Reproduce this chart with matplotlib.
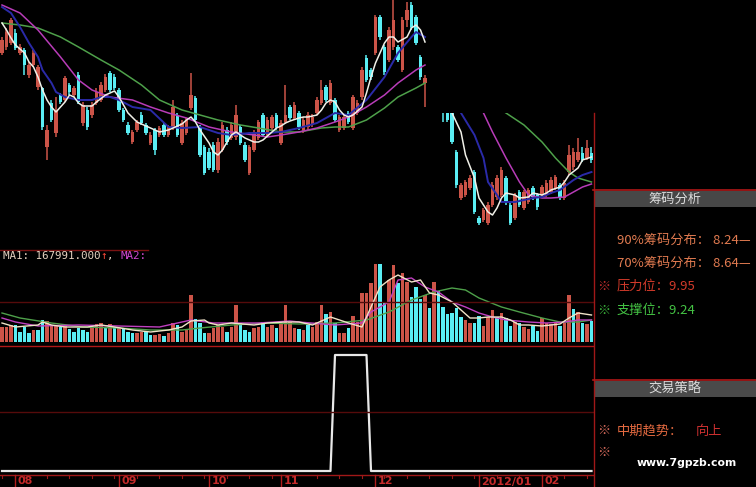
import numpy as np
import matplotlib
matplotlib.use('Agg')
import matplotlib.pyplot as plt
from matplotlib.patches import Rectangle
from matplotlib.transforms import blended_transform_factory

W, H = 756, 487
CJK = ['Noto Sans CJK SC', 'DejaVu Sans']
nan = float('nan')

# daily candles (price); three bars in the gap lie outside the drawn range
opens = [24.7, 25.3, 25.7, 26.7, 24.7, 25.0, 22.5, 23.5, 21.3, 21.2, 15.3, 19.7, 16.7, 20.5, 20.0, 21.5,
         20.5, 22.5, 17.7, 19.0, 18.5, 19.7, 20.0, 21.0, 22.7, 22.3, 21.0, 19.0, 17.5, 15.8, 17.0, 18.5,
         17.5, 15.7, 17.0, 16.5, 17.5, 16.5, 17.3, 18.5, 15.7, 16.7, 19.2, 20.2, 17.3, 15.3, 14.8, 15.5,
         13.0, 15.0, 17.0, 16.2, 16.3, 17.3, 15.5, 12.7, 15.0, 16.2, 18.5, 16.5, 17.2, 18.5, 15.7, 17.8,
         19.3, 18.2, 18.7, 17.0, 17.3, 17.5, 18.7, 19.7, 21.3, 19.7, 20.0, 17.0, 17.2, 18.7, 17.2, 18.7,
         20.3, 24.2, 23.0, 24.7, 28.3, 25.3, 24.0, 25.3, 25.3, 23.0, 28.0, 29.5, 28.3, 24.3, 21.7,
         nan, nan, nan,
         20.0, 19.5, 19.0, 14.8, 10.2, 10.5, 11.2, 12.8, 8.2, 8.0, 7.7, 9.5, 10.3, 10.5, 12.2, 9.5,
         8.2, 10.8, 9.2, 9.8, 11.2, 10.5, 10.5, 10.5, 10.8, 11.2, 11.5, 10.2, 12.8, 13.3, 14.0, 14.7,
         14.2, 14.7]
highs = [26.3, 27.2, 28.2, 27.1, 25.6, 25.2, 23.8, 25.0, 23.5, 21.3, 17.5, 20.0, 20.3, 20.7, 22.4, 21.7,
         21.4, 22.8, 19.8, 19.3, 19.8, 21.2, 21.8, 22.6, 22.9, 22.6, 21.2, 19.2, 17.8, 17.0, 18.0, 18.8,
         17.7, 16.8, 17.2, 17.4, 17.7, 17.5, 20.0, 18.7, 18.0, 18.2, 22.7, 20.4, 17.5, 15.5, 15.2, 15.8,
         16.2, 17.8, 17.3, 17.8, 19.5, 17.5, 15.8, 15.5, 17.0, 18.0, 18.7, 18.3, 18.5, 18.7, 18.0, 21.5,
         19.5, 19.8, 18.9, 18.3, 18.8, 18.6, 20.3, 22.0, 21.5, 22.0, 20.2, 18.5, 18.5, 18.9, 20.5, 20.0,
         23.3, 24.5, 23.2, 28.5, 28.5, 25.5, 27.3, 30.0, 25.5, 28.3, 29.8, 29.8, 28.5, 24.5, 22.5,
         nan, nan, nan,
         20.2, 19.8, 19.2, 15.0, 11.7, 12.0, 12.5, 13.0, 8.4, 9.2, 9.8, 11.8, 12.5, 13.3, 12.4, 9.7,
         10.7, 11.0, 11.0, 11.2, 11.4, 10.7, 11.5, 12.0, 12.3, 12.5, 11.7, 12.0, 15.5, 15.2, 16.2, 15.3,
         16.0, 15.3]
lows = [24.5, 25.0, 25.5, 25.0, 24.5, 22.5, 22.2, 23.3, 21.0, 17.0, 14.0, 17.8, 16.3, 19.6, 19.8, 20.5,
        20.3, 19.6, 17.4, 17.0, 18.2, 19.5, 19.8, 20.8, 20.8, 21.0, 18.8, 17.8, 16.5, 15.6, 16.8, 17.5,
        16.5, 15.5, 14.5, 16.3, 16.3, 16.3, 17.0, 16.3, 15.5, 16.5, 19.0, 17.8, 14.3, 12.5, 13.0, 12.8,
        12.7, 14.8, 15.5, 16.0, 16.0, 15.5, 13.8, 12.5, 14.8, 16.0, 16.3, 16.3, 17.0, 17.0, 15.5, 17.6,
        18.0, 18.0, 17.0, 16.7, 17.0, 17.3, 18.5, 19.5, 19.8, 19.5, 17.8, 16.8, 17.0, 17.6, 17.0, 18.5,
        20.0, 21.8, 22.0, 24.5, 26.0, 22.5, 23.8, 25.0, 23.8, 22.8, 27.3, 27.0, 25.5, 22.0, 19.3,
        nan, nan, nan,
        17.8, 17.8, 15.6, 11.2, 10.0, 10.3, 11.0, 8.6, 7.5, 7.8, 7.5, 9.3, 10.0, 10.3, 9.5, 7.5,
        8.0, 9.3, 9.0, 9.6, 10.0, 9.0, 10.3, 10.3, 10.6, 11.0, 10.0, 10.0, 12.5, 13.0, 13.8, 13.8,
        14.0, 13.7]
closes = [26.0, 26.8, 28.0, 25.2, 25.3, 23.5, 23.5, 24.7, 23.3, 17.3, 17.0, 18.0, 19.0, 19.8, 22.2, 20.8,
          21.2, 19.8, 19.5, 17.3, 19.5, 20.8, 21.5, 22.3, 21.0, 21.2, 19.0, 18.0, 16.7, 16.8, 17.8, 17.7,
          16.7, 16.5, 15.0, 17.2, 16.5, 17.3, 19.3, 16.5, 17.7, 18.0, 20.5, 18.0, 14.5, 12.7, 13.2, 13.0,
          15.8, 17.5, 15.8, 17.5, 18.5, 15.7, 14.0, 15.3, 16.8, 17.8, 16.5, 18.0, 18.3, 17.3, 17.7, 18.5,
          18.2, 19.5, 17.3, 18.0, 18.5, 18.3, 20.0, 21.0, 20.0, 21.7, 18.0, 18.3, 18.3, 17.8, 20.3, 19.7,
          23.0, 22.0, 22.3, 28.3, 26.3, 22.8, 27.0, 28.0, 24.0, 28.0, 29.0, 27.3, 25.7, 22.3, 22.2,
          nan, nan, nan,
          19.0, 18.0, 15.8, 11.5, 11.5, 11.8, 12.2, 8.8, 7.7, 9.0, 9.5, 11.5, 12.2, 13.0, 9.8, 7.7,
          10.5, 9.5, 10.8, 11.0, 10.3, 9.3, 11.3, 11.7, 12.0, 12.3, 10.2, 11.7, 14.5, 14.8, 14.8, 14.0,
          15.2, 14.0]

# price moving averages (bar index, value)
ma5_l_i = [0, 1, 2, 3, 5, 6, 7, 8, 9, 10, 11, 12, 14, 15, 16, 17, 18, 20, 21, 23, 24, 25, 26, 27, 28, 30,
           31, 32, 33, 35, 37, 40, 41, 42, 43, 44, 46, 47, 48, 49, 50, 51, 52, 53, 54, 56, 57, 58, 59, 60,
           61, 62, 63, 64, 66, 67, 68, 70, 71, 72, 73, 74, 75, 76, 77, 78, 80, 81, 82, 83, 84, 85, 86, 87,
           88, 90, 91, 92, 93, 94]
ma5_l_v = [27.7, 27.0, 26.2, 25.5, 24.7, 23.8, 23.3, 22.3, 21.0, 20.0, 19.3, 18.8, 19.8, 20.5, 20.3, 19.7,
           19.4, 19.4, 19.8, 20.5, 20.7, 20.9, 20.3, 19.5, 18.7, 17.8, 17.6, 17.4, 17.2, 16.8, 17.0, 17.6,
           18.0, 18.3, 17.8, 17.0, 15.7, 14.8, 14.5, 15.0, 15.8, 16.5, 16.8, 16.5, 16.2, 15.8, 15.8, 16.0,
           16.4, 16.8, 17.2, 17.4, 17.7, 17.9, 18.2, 18.3, 18.3, 18.5, 19.0, 19.7, 20.0, 19.8, 19.0, 18.5,
           18.3, 18.5, 19.3, 20.7, 22.3, 23.7, 24.7, 25.7, 26.3, 26.3, 25.8, 26.3, 27.2, 27.5, 27.0, 25.8]
ma10_l_i = [0, 2, 4, 6, 8, 9, 11, 12, 14, 15, 17, 20, 22, 24, 26, 29, 33, 37, 40, 44, 48, 51, 55, 59, 62,
            66, 70, 74, 77, 81, 85, 88, 91, 92, 94]
ma10_l_v = [29.3, 28.7, 27.3, 25.7, 24.3, 23.0, 21.7, 20.8, 20.3, 20.2, 20.0, 20.0, 20.3, 20.3, 20.0, 19.3,
            19.0, 17.3, 17.2, 17.3, 16.7, 16.5, 16.7, 16.7, 16.8, 17.2, 17.7, 18.7, 18.5, 20.0, 22.3, 24.7,
            26.3, 26.8, 26.3]
ma20_l_i = [0, 4, 8, 13, 17, 20, 24, 29, 33, 37, 41, 46, 51, 56, 59, 62, 66, 70, 74, 77, 81, 85, 88, 92, 94]
ma20_l_v = [29.5, 28.7, 27.0, 24.3, 22.0, 21.0, 20.3, 20.0, 19.3, 18.7, 18.2, 17.3, 16.8, 16.5, 16.3, 16.5,
            16.8, 17.2, 17.8, 18.3, 19.3, 20.5, 21.7, 23.0, 23.5]
ma60_l_i = [0, 4, 8, 13, 17, 22, 26, 31, 35, 40, 44, 48, 53, 57, 62, 66, 71, 74, 77, 81, 85, 88, 92, 94]
ma60_l_v = [27.7, 27.5, 27.2, 26.3, 25.3, 24.0, 23.0, 21.5, 20.0, 19.0, 18.5, 18.0, 17.5, 17.2, 16.8, 16.8,
            17.2, 17.3, 17.3, 18.0, 19.2, 20.3, 21.2, 21.7]

ma5_r_i = [98, 100, 102, 103, 105, 106, 108, 109, 110, 111, 112, 114, 115, 117, 118, 120, 121, 122, 124,
           125, 126, 128, 129, 131]
ma5_r_v = [21.5, 18.7, 16.8, 14.5, 12.2, 10.2, 8.8, 8.5, 9.2, 10.2, 10.7, 10.5, 10.2, 10.3, 10.7, 10.5,
           10.7, 11.0, 11.3, 11.8, 12.5, 13.2, 14.0, 14.3]
ma10_r_i = [98, 102, 105, 107, 108, 110, 111, 114, 116, 118, 120, 122, 124, 127, 129, 131]
ma10_r_v = [21.6, 18.7, 16.5, 14.2, 11.8, 10.5, 9.8, 9.8, 10.0, 10.2, 10.3, 10.7, 11.0, 12.0, 12.5, 12.8]
ma20_r_i = [98, 107, 109, 112, 115, 117, 120, 122, 125, 127, 129, 131]
ma20_r_v = [27.0, 18.7, 16.8, 14.2, 11.8, 10.5, 10.2, 10.2, 10.3, 10.8, 11.3, 11.6]
ma60_r_i = [98, 112, 116, 120, 123, 126, 128, 131]
ma60_r_v = [23.0, 18.7, 17.5, 15.8, 14.2, 12.8, 12.2, 11.8]

# volume (arbitrary units) and its colour flag (1 = red, 0 = cyan)
volume = [15, 15, 17, 17, 10, 15, 9, 12, 12, 22, 21, 17, 17, 15, 17, 13, 10, 14, 12, 10,
          14, 18, 19, 14, 18, 15, 15, 14, 10, 9, 9, 10, 10, 7, 7, 8, 6, 9, 19, 17,
          10, 12, 47, 23, 19, 9, 9, 14, 17, 15, 10, 15, 37, 19, 12, 10, 14, 15, 20, 15,
          17, 14, 19, 37, 20, 14,
          13, 12, 17, 15, 20, 37, 28, 30, 19, 9, 9, 14, 26, 20, 49, 49, 59, 78, 78, 40,
          62, 77, 59, 69, 60, 45, 55, 43, 47, 34, 60, 51, 35, 28, 29, 34, 25, 22, 19, 19,
          26, 16, 25, 32, 25, 29, 24, 16, 20, 19, 15, 13, 16, 11, 24, 19, 18, 19, 16, 19,
          47, 33, 30, 19, 18, 21]
vol_up = [1, 1, 1, 0, 0, 0, 0, 1, 0, 0, 1, 1, 1, 0, 1, 0, 0, 0, 0, 0,
          1, 1, 1, 0, 1, 0, 1, 0, 0, 0, 1, 1, 0, 0, 1, 1, 0, 1, 1, 0,
          1, 1, 1, 0, 0, 0, 1, 1, 1, 1, 0, 1, 1, 0, 0, 0, 1, 1, 0, 1,
          1, 0, 1, 1, 1, 1,
          0, 1, 0, 1, 1, 1, 0, 1, 0, 1, 1, 0, 1, 1, 1, 1, 1, 1, 0, 0,
          1, 1, 0, 1, 1, 0, 0, 0, 1, 0, 1, 0, 0, 0, 0, 0, 0, 1, 1, 0,
          0, 1, 1, 1, 0, 1, 0, 0, 1, 0, 1, 1, 0, 0, 1, 1, 1, 1, 0, 1,
          1, 0, 1, 0, 1, 0]

vma5_i = [0, 3, 8, 9, 11, 14, 19, 22, 25, 29, 33, 37, 40, 42, 45, 46, 48, 51, 56, 59, 63, 66, 69, 73,
          75, 77, 80, 82, 84, 86, 88, 91, 93, 95, 97, 100, 102, 104, 106, 108, 111, 113, 115, 117, 120,
          122, 124, 126, 128, 131]
vma5_v = [19, 15, 17, 20, 17, 15, 15, 17, 15, 12, 10, 12, 15, 21, 22, 19, 17, 19, 17, 19, 20, 20, 17, 25,
          22, 19, 15, 35, 55, 62, 67, 60, 62, 49, 47, 40, 32, 24, 24, 25, 25, 22, 17, 17, 16, 17, 18, 24,
          29, 27]
vma10_i = [0, 3, 8, 17, 26, 35, 42, 47, 51, 57, 64, 66, 74, 80, 82, 86, 88, 91, 94, 97, 100, 103, 106,
           109, 112, 117, 121, 125, 128, 131]
vma10_v = [24, 20, 16, 17, 16, 15, 22, 19, 19, 19, 21, 20, 17, 19, 30, 40, 62, 64, 55, 50, 40, 35, 29, 25,
           22, 20, 19, 20, 22, 22]
vma20_i = [0, 4, 11, 18, 26, 33, 40, 44, 51, 59, 66, 74, 81, 86, 91, 96, 100, 103, 106, 111, 115, 120,
           124, 128, 131]
vma20_v = [29, 24, 19, 15, 14, 12, 12, 14, 17, 19, 18, 19, 22, 30, 42, 50, 54, 52, 44, 35, 30, 24, 20, 20,
           22]

# lower indicator: on/off signal
signal = [0] * 74 + [1] * 8 + [0] * 50

month_idx = [3, 26, 46, 62, 83, 106, 120]
month_lbl = ['08', '09', '10', '11', '12', '2012/01', '02']

RED = '#cc5448'
CYAN = '#5aeef4'
N = len(opens)


def box(x0, y0, x1, y1):
    return [x0 / W, 1 - y1 / H, (x1 - x0) / W, (y1 - y0) / H]


def plain(ax, xl, yl):
    ax.set_xlim(*xl)
    ax.set_ylim(*yl)
    ax.set_facecolor('none')
    ax.axis('off')


def candles(ax, idx):
    for i in idx:
        o, h, l, c = opens[i], highs[i], lows[i], closes[i]
        if np.isnan(o):
            continue
        col = RED if c >= o else CYAN
        ax.vlines(i, l, h, color=col, lw=1.1)
        ax.bar(i, max(abs(c - o), 0.08), bottom=min(o, c), width=0.74, color=col, lw=0)


fig = plt.figure(figsize=(W / 100, H / 100), dpi=100, facecolor='black')
XL = (-2 / 4.5, 591 / 4.5)

# price, left part
axp = fig.add_axes(box(0, 0, 593, 245))
plain(axp, XL, (5.5, 30))
candles(axp, range(0, 95))
axp.plot(ma60_l_i, ma60_l_v, color='#4ea04a', lw=1.1)
axp.plot(ma20_l_i, ma20_l_v, color='#b83cb8', lw=1.1)
axp.plot(ma10_l_i, ma10_l_v, color='#2a2aa8', lw=1.4)
axp.plot(ma5_l_i, ma5_l_v, color='#f0f0e8', lw=1.1)

# price, right part (clipped lower)
axr = fig.add_axes(box(0, 113, 593, 245))
plain(axr, XL, (5.5, 18.7))
candles(axr, range(98, N))
axr.plot(ma60_r_i, ma60_r_v, color='#4ea04a', lw=1.1)
axr.plot(ma20_r_i, ma20_r_v, color='#b83cb8', lw=1.1)
axr.plot(ma10_r_i, ma10_r_v, color='#2a2aa8', lw=1.4)
axr.plot(ma5_r_i, ma5_r_v, color='#f0f0e8', lw=1.1)

# volume
axv = fig.add_axes(box(0, 245, 593, 342))
plain(axv, XL, (0, 97))
vcols = [RED if u else CYAN for u in vol_up]
axv.bar(range(N), volume, width=0.74, color=vcols, lw=0)
axv.plot(vma20_i, vma20_v, color='#4ea04a', lw=1.0)
axv.plot(vma10_i, vma10_v, color='#c040c0', lw=1.0)
axv.plot(vma5_i, vma5_v, color='#f0e4c8', lw=1.0)

# indicator
axi = fig.add_axes(box(0, 346, 593, 474))
plain(axi, XL, (-3 / 116, 125 / 116))
axi.plot(range(N), signal, color='#e8e8e8', lw=1.6)

# overlay in pixel coordinates
bg = fig.add_axes([0, 0, 1, 1])
plain(bg, (0, W), (H, 0))
bg.plot([0, 148], [250, 250], color='#7a1212', lw=1.0)
bg.plot([0, 593], [302, 302], color='#560b0b', lw=1.0)
bg.plot([0, 593], [345.5, 345.5], color='#b01818', lw=1.0)
bg.plot([0, 593], [412, 412], color='#560b0b', lw=1.0)
bg.plot([0, 593], [474.5, 474.5], color='#a01818', lw=1.0)
bg.plot([593.5, 593.5], [113, 487], color='#a01818', lw=1.0)

# month axis
bt = blended_transform_factory(axi.transData, bg.transData)
for i in range(0, N, 5):
    bg.plot([i, i], [475, 478], color='#a01818', lw=0.8, transform=bt)
for i, lab in zip(month_idx, month_lbl):
    bg.plot([i, i], [475, 487], color='#b01c1c', lw=1.0, transform=bt)
    bg.text(i + 0.5, 481.5, lab, transform=bt, color='#c42a2a', fontsize=8,
            fontweight='bold', va='center', ha='left', family='DejaVu Sans')

# volume legend
cw = 6.52
fs = 7.8
bg.text(3, 256, 'MA1: 167991.000', color='#e6d2c0', fontsize=fs, family='DejaVu Sans Mono', va='center')
bg.text(3 + 15 * cw, 256, '↑', color='#ff4a3a', fontsize=fs, family='DejaVu Sans Mono', va='center')
bg.text(3 + 16 * cw, 256, ',', color='#e6d2c0', fontsize=fs, family='DejaVu Sans Mono', va='center')
bg.text(3 + 18 * cw, 256, 'MA2:', color='#d048d0', fontsize=fs, family='DejaVu Sans Mono', va='center')

# right panel
bg.plot([593, W], [190, 190], color='#b01818', lw=1.2)
bg.add_patch(Rectangle((595, 191), W - 595, 16, color='#474747', lw=0))
bg.text(675, 199, '筹码分析', color='#dcdcdc', fontsize=9.5, family=CJK, ha='center', va='center')
bg.text(617, 240, '90%筹码分布： 8.24—', color='#e07a50', fontsize=9.5, family=CJK, va='center')
bg.text(617, 263, '70%筹码分布： 8.64—', color='#e07a50', fontsize=9.5, family=CJK, va='center')
bg.text(597, 286, '※', color='#c83030', fontsize=9.5, family=CJK, va='center')
bg.text(617, 286, '压力位：9.95', color='#d23a2a', fontsize=9.5, family=CJK, va='center')
bg.text(597, 310, '※', color='#3cb83c', fontsize=9.5, family=CJK, va='center')
bg.text(617, 310, '支撑位：9.24', color='#44c444', fontsize=9.5, family=CJK, va='center')

bg.plot([593, W], [380, 380], color='#b01818', lw=1.2)
bg.add_patch(Rectangle((594, 381), W - 594, 16, color='#4a4a4a', lw=0))
bg.text(675, 389, '交易策略', color='#dcdcdc', fontsize=9.5, family=CJK, ha='center', va='center')
bg.text(597, 431, '※', color='#e07060', fontsize=9.5, family=CJK, va='center')
bg.text(617, 431, '中期趋势：', color='#e46a40', fontsize=9.5, family=CJK, va='center')
bg.text(696, 431, '向上', color='#cc3030', fontsize=9.5, family=CJK, va='center')
bg.text(597, 453, '※', color='#e07060', fontsize=9.5, family=CJK, va='center')
bg.text(637, 463, 'www.7gpzb.com', color='white', fontsize=7.8, fontweight='bold',
        family='DejaVu Sans', va='center')

fig.savefig('out.png', dpi=100, facecolor='black')
